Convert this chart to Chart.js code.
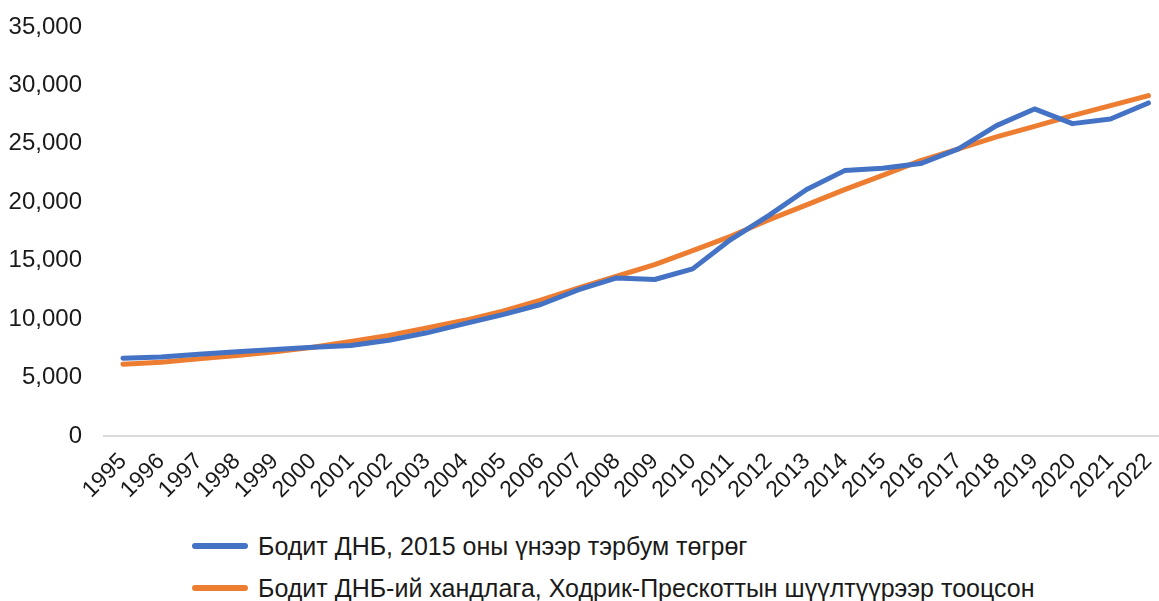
<!DOCTYPE html>
<html>
<head>
<meta charset="utf-8">
<script src="https://cdn.jsdelivr.net/npm/chart.js@4/dist/chart.umd.min.js"></script>
<style>
  body { margin: 0; overflow: hidden; background: #fff; width: 1159px; height: 601px; position: relative; }
  #wrap { position: absolute; left: 0; top: 0; width: 1180px; height: 515px; }
  .leg { position: absolute; left: 192px; font: 25px "Liberation Sans", Arial, sans-serif; color: #1a1a1a; white-space: nowrap; }
  .leg span { display: inline-block; width: 56px; height: 6px; border-radius: 3px; vertical-align: middle; margin-right: 10px; position: relative; top: -2px; }
</style>
</head>
<body>
<div id="wrap"><canvas id="chart"></canvas></div>
<div class="leg" id="leg1" style="top:532px"></div>
<div class="leg" id="leg2" style="top:574px"></div>
<script>
// годы
const years = ['1995','1996','1997','1998','1999','2000','2001','2002','2003','2004',
  '2005','2006','2007','2008','2009','2010','2011','2012','2013','2014',
  '2015','2016','2017','2018','2019','2020','2021','2022'];

// Бодит ДНБ
const realGdp = [6660, 6770, 7000, 7200, 7400, 7600, 7740, 8200, 8830, 9620,
  10390, 11250, 12530, 13530, 13390, 14300, 16810, 18860, 21090, 22710,
  22910, 23310, 24570, 26560, 27990, 26730, 27130, 28500];

// HP тренд
const hpTrend = [6140, 6310, 6600, 6890, 7200, 7600, 8080, 8600, 9250, 9900,
  10680, 11620, 12680, 13670, 14670, 15870, 17090, 18490, 19780, 21080,
  22310, 23570, 24570, 25600, 26500, 27420, 28270, 29130];

const seriesNames = [
  'Бодит ДНБ, 2015 оны үнээр тэрбум төгрөг',
  'Бодит ДНБ-ий хандлага, Ходрик-Прескоттын шүүлтүүрээр тооцсон'
];
const colors = ['#4472C4', '#ED7D31'];

const font = "'Liberation Sans', Arial, sans-serif";

new Chart(document.getElementById('chart'), {
    type: 'line',
    data: {
        labels: years,
        datasets: [
            {
                label: seriesNames[0],
                data: realGdp,
                borderColor: colors[0],
                backgroundColor: colors[0]
            },
            {
                label: seriesNames[1],
                data: hpTrend,
                borderColor: colors[1],
                backgroundColor: colors[1]
            }
        ]
    },
    options: {
        animation: false,
        responsive: true,
        maintainAspectRatio: false,
        layout: { padding: { top: 27, right: 4, left: 0, bottom: 0 } },
        elements: {
            point: { radius: 0 },
            line: { borderWidth: 5, tension: 0, borderCapStyle: 'round', borderJoinStyle: 'round' }
        },
        plugins: {
            legend: { display: false },
            tooltip: { enabled: false }
        },
        scales: {
            x: {
                offset: true,
                grid: { display: false, drawTicks: false },
                border: { display: true, color: '#d9d9d9', width: 2 },
                ticks: {
                    autoSkip: false,
                    minRotation: 45,
                    maxRotation: 45,
                    padding: 12,
                    color: '#1a1a1a',
                    font: { family: font, size: 23 }
                },
                afterFit: (s) => { s.height = 79; }
            },
            y: {
                min: 0,
                max: 35000,
                grid: { display: false, drawTicks: false },
                border: { display: false },
                ticks: {
                    stepSize: 5000,
                    padding: 22,
                    color: '#1a1a1a',
                    font: { family: font, size: 24 },
                    callback: (v) => v.toLocaleString('en-US')
                },
                afterFit: (s) => { s.width = 104; s.paddingTop = 0; s.paddingBottom = 0; }
            }
        }
    }
});

// легенда
[['leg1', 0], ['leg2', 1]].forEach(([id, i]) => {
    const el = document.getElementById(id);
    const sw = document.createElement('span');
    sw.style.background = colors[i];
    el.appendChild(sw);
    el.appendChild(document.createTextNode(seriesNames[i]));
});
</script>
</body>
</html>
